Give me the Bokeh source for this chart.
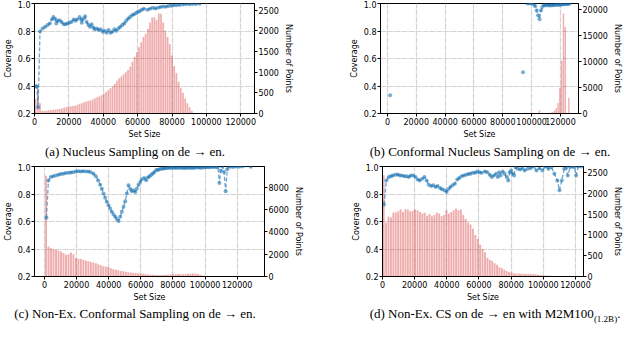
import numpy as np
from bokeh.plotting import figure
from bokeh.models import Range1d, LinearAxis, FixedTicker, PrintfTickFormatter, Div
from bokeh.layouts import column, row
from bokeh.embed import file_html
from bokeh.resources import INLINE

NAN = float("nan")
BLUE = "#1f77b4"
RED = "#d62728"

# ---------------- data ----------------
x_ticks = [0, 20000, 40000, 60000, 80000, 100000, 120000]
cov_ticks = [0.2, 0.4, 0.6, 0.8, 1.0]

# (a) Nucleus Sampling
a_bin_start, a_bin_width = 0, 1280
a_counts = [350, 600, 250, 60, 60, 70, 80, 85, 90, 95,
            100, 110, 120, 140, 160, 170, 175, 180, 190, 210,
            235, 250, 270, 290, 300, 320, 340, 370, 390, 420,
            440, 480, 520, 560, 610, 660, 720, 790, 850, 900,
            950, 1000, 1050, 1130, 1250, 1370, 1480, 1600, 1720, 1850,
            1930, 2050, 2200, 2320, 2330, 2260, 2420, 2410, 2200, 2000,
            1850, 1680, 1400, 1150, 980, 770, 620, 500, 360, 250,
            150, 60, 15]
a_size = [700, 1400, 2100, 3200, 4700, 6250, 7580, 8900, 10060, 11000,
          11970, 12700, 13470, 14600, 15730, 17100, 18000, 19150, 20290, 21430,
          22800, 23720, 24680, 26220, 27130, 27530, 28500, 29410, 30380, 31350,
          32260, 33230, 34200, 35110, 36250, 37390, 38530, 39670, 40810, 41950,
          43090, 44230, 45370, 46510, 47650, 48790, 49930, 51070, 52210, 53350,
          54490, 55630, 56770, 57910, 59050, 60190, 61330, 62470, 63610, 65700,
          67260, 68770, 70290, 71800, 73310, 74840, 76370, 77880, 79400, 80940,
          82440, 84350, 86240, 88120, 90060, 91940, 93830, 96110]
a_cov = [0.40, 0.395, 0.245, 0.797, 0.819, 0.831, 0.843, 0.855, 0.883, 0.902,
         0.89, 0.855, 0.874, 0.879, 0.866, 0.85, 0.85, 0.855, 0.86, 0.866,
         0.883, 0.874, 0.883, 0.902, 0.883, 0.86, 0.89, 0.907, 0.866, 0.843,
         0.831, 0.85, 0.826, 0.812, 0.819, 0.807, 0.812, 0.795, 0.802, 0.788,
         0.807, 0.788, 0.795, 0.812, 0.802, 0.819, 0.831, 0.843, 0.855, 0.874,
         0.89, 0.902, 0.914, 0.921, 0.931, 0.938, 0.945, 0.955, 0.962, 0.955,
         0.962, 0.969, 0.964, 0.969, 0.974, 0.979, 0.976, 0.981, 0.983, 0.988,
         0.988, 0.99, 0.993, 0.995, 0.995, 0.997, 0.997, 0.998]

# (b) Conformal Nucleus Sampling
b_bin_width = 1250
b_centers = [105440, 113000, 114340, 115840, 117090, 118330, 119580, 120830, 122080, 123330, 125830]
b_counts = [620, 150, 300, 550, 1070, 2000, 4900, 10050, 19200, 16600, 3000]
b_size = [1870, NAN, 94000, NAN, 97000, 98500, 100000, 101500, 102500, 103500,
          104500, 105500, 106500, 107300, 108500, 109500, 110500, 111500, 112500, 113500,
          114500, 115500, 116500, 117500, 118500, 119500, 120500, 121500, 122500, 123500,
          124500, 125500, 126300]
b_cov = [0.333, NAN, 0.5, NAN, 1.0, 1.0, 1.0, 0.995, 0.98, 0.95,
         0.915, 0.886, 0.95, 0.975, 0.99, 0.985, 0.995, 0.985, 0.99, 0.985,
         0.99, 0.988, 0.992, 0.99, 0.993, 0.99, 0.995, 0.993, 0.996, 0.995,
         0.997, 0.996, 1.0]

# (c) Non-Ex. Conformal Sampling
c_bin_start, c_bin_width = 225, 1550
c_counts = [9050, 2690, 2540, 2450, 2390, 2300, 2240, 2100, 1950, 2000,
            2150, 2000, 1660, 1600, 1570, 1480, 1420, 1360, 1300, 1250,
            1180, 1100, 1000, 930, 900, 820, 740, 660, 600, 550,
            500, 460, 420, 390, 360, 330, 310, 290, 260, 240,
            220, 180, 160, 150, 140, 140, 130, 140, 150, 160,
            170, 200, 210, 230, 220, 210, 230, 240, 250, 260,
            270, 230, 160, 80, 30]
c_size = [1250, 2490, 3940, 5400, 7060, 8720, 10170, 11630, 13300, 14950,
          16400, 17860, 19520, 21180, 22630, 24110, 25740, 27410, 28850, 30530,
          31960, 33430, 34700, 35700, 36760, 37800, 38800, 39870, 40930, 41930,
          42990, 44050, 45040, 46100, 47160, 48160, 49220, 50280, 51270, 52330,
          53390, 54390, 55450, 56510, 57500, 58560, 59620, 60620, 62110, 63330,
          64400, 65400, 66500, 67500, 68500, 69600, 70600, 71700, 72800, 73800,
          74800, 75800, 76900, 77900, 79000, 80000, 81000, 82000, 83000, 84000,
          85000, 86000, 87000, 88000, 89000, 90000, 91000, 92000, 93000, 94000,
          95000, 96000, 97000, 98000, 99000, 100000, 101000, 102000, 103000, 104000,
          105000, 106000, 107000, 108000, 108900, 109800, 110800, 111800, 112800, 113800,
          114800, 116000, 117500, 119000, 121000, 123000, 128500]
c_cov = [0.627, 0.899, 0.923, 0.930, 0.935, 0.94, 0.945, 0.947, 0.952, 0.954,
         0.957, 0.959, 0.964, 0.966, 0.964, 0.966, 0.964, 0.964, 0.959, 0.947,
         0.93, 0.899, 0.868, 0.839, 0.803, 0.772, 0.743, 0.719, 0.694, 0.671,
         0.651, 0.635, 0.618, 0.604, 0.635, 0.671, 0.707, 0.748, 0.803, 0.863,
         0.839, 0.82, 0.827, 0.815, 0.839, 0.868, 0.888, 0.907, 0.916, 0.90,
         0.92, 0.93, 0.94, 0.95, 0.96, 0.975, 0.975, 0.98, 0.985, 0.983,
         0.99, 0.988, 0.99, 0.992, 0.99, 0.995, 0.99, 0.993, 0.99, 0.995,
         0.99, 0.992, 0.988, 0.993, 0.99, 0.995, 0.99, 0.993, 0.99, 0.995,
         0.992, 0.996, 0.99, 0.995, 0.993, 0.996, 0.995, 0.997, 0.995, 0.998,
         0.996, 0.998, 0.997, 0.995, 0.88, 0.97, 1.0, 0.96, 0.82, 0.98,
         1.0, 0.998, 0.997, 1.0, 0.998, 1.0, 0.998]

# (d) Non-Ex. CS with M2M100 (1.2B)
d_bin_start, d_bin_width = 0, 1500
d_counts = [2430, 1290, 1435, 1420, 1540, 1540, 1570, 1618, 1550, 1618,
            1610, 1570, 1580, 1610, 1594, 1550, 1514, 1530, 1460, 1500,
            1450, 1475, 1540, 1514, 1450, 1475, 1594, 1514, 1550, 1594,
            1633, 1594, 1610, 1480, 1380, 1300, 1250, 1150, 1000, 900,
            760, 660, 580, 450, 400, 370, 320, 280, 225, 200,
            160, 135, 110, 95, 80, 75, 70, 68, 65, 62,
            65, 62, 60, 55, 45, 38, 30, 25, 22, 18,
            15, 14, 12, 10, 10, 8, 8, 6, 6, 5,
            5, 4, 3]
d_size = [940, 2440, 3900, 5200, 6500, 8000, 9450, 10780, 12060, 13550,
          15000, 16330, 17610, 19110, 20560, 21890, 23170, 24670, 26110, 27450,
          28720, 30220, 31660, 32990, 34270, 35770, 37050, 38550, 39830, 40940,
          42220, 43550, 45000, 46500, 47780, 49110, 50550, 52060, 53340, 54670,
          56110, 57610, 58890, 60220, 61670, 63700, 65200, 66700, 67950, 69300,
          70750, 71700, 72600, 73500, 74800, 75950, 77250, 78150, 79100, 80000,
          80950, 81850, 82800, 84100, 85550, 87050, 88350, 90200, 92050, 93900,
          95760, 97600, 99460, 101300, 103170, 105030, 106880, 108740, 110040, 111520,
          113000, 114300, 115220, 116700, 118000, 119300, 120400, 121700, 123550]
d_cov = [0.723, 0.899, 0.923, 0.930, 0.935, 0.940, 0.942, 0.935, 0.935, 0.930,
         0.930, 0.923, 0.935, 0.935, 0.923, 0.906, 0.899, 0.911, 0.923, 0.899,
         0.868, 0.858, 0.863, 0.851, 0.858, 0.844, 0.834, 0.827, 0.815, 0.834,
         0.851, 0.863, 0.875, 0.906, 0.916, 0.930, 0.935, 0.940, 0.945, 0.947,
         0.954, 0.954, 0.964, 0.959, 0.954, 0.964, 0.959, 0.940, 0.923, 0.935,
         0.947, 0.923, 0.959, 0.935, 0.964, 0.947, 0.923, 0.899, 0.959, 0.971,
         0.947, 0.935, 0.995, 0.983, 0.978, 0.988, 0.971, 0.983, 0.988, 1.0,
         0.971, 0.988, 0.971, 1.0, 0.983, 0.995, 0.947, 0.899, 0.827, 0.899,
         0.983, 0.995, 0.935, 0.995, 1.0, 0.995, 0.935, 1.0, 1.0]

captions = [
    "(a) Nucleus Sampling on de \u2192 en.",
    "(b) Conformal Nucleus Sampling on de \u2192 en.",
    "(c) Non-Ex. Conformal Sampling on de \u2192 en.",
    "(d) Non-Ex. CS on de \u2192 en with M2M100<sub style=\"font-size:9px\">(1.2B)</sub>.",
]


def centers_from(start, width, counts):
    return [start + width * (i + 0.5) for i in range(len(counts))]


def style_axis(ax):
    ax.major_label_text_font = "DejaVu Sans"
    ax.major_label_text_font_size = "8px"
    ax.major_label_text_color = "#000000"
    ax.axis_label_text_font = "DejaVu Sans"
    ax.axis_label_text_font_size = "8px"
    ax.axis_label_text_font_style = "normal"
    ax.axis_label_text_color = "#000000"
    ax.major_tick_out = 3
    ax.major_tick_in = 0
    ax.minor_tick_out = 0
    ax.minor_tick_in = 0
    ax.major_label_standoff = 1
    ax.axis_label_standoff = 2
    ax.axis_line_color = "#000000"
    ax.major_tick_line_color = "#000000"


def panel(xr, y2max, y2ticks, mleft, mright, height, top, bottom,
          centers, counts, bw, sizes, covs):
    p = figure(width=312, height=height, x_range=Range1d(*xr), y_range=Range1d(0.2, 1.0),
               output_backend="svg", toolbar_location=None,
               min_border_left=mleft, min_border_right=mright,
               min_border_top=top, min_border_bottom=bottom)
    p.extra_y_ranges = {"n": Range1d(0, y2max)}
    ax2 = LinearAxis(y_range_name="n", axis_label="Number of Points",
                     ticker=FixedTicker(ticks=y2ticks),
                     formatter=PrintfTickFormatter(format="%d"))
    p.add_layout(ax2, "right")

    p.vbar(x=centers, top=counts, bottom=0, width=bw * 0.78, y_range_name="n",
           fill_color=RED, fill_alpha=0.38, line_color=None)
    p.line(np.array(sizes, dtype=float), np.array(covs, dtype=float),
           line_color=BLUE, line_alpha=0.65, line_dash="4 2", line_width=1.3)
    p.scatter(np.array(sizes, dtype=float), np.array(covs, dtype=float), size=4,
              fill_color=BLUE, fill_alpha=0.6, line_color=None)

    p.xaxis.axis_label = "Set Size"
    p.xaxis.ticker = FixedTicker(ticks=x_ticks)
    p.xaxis.formatter = PrintfTickFormatter(format="%d")
    lax = p.left[0]
    lax.axis_label = "Coverage"
    lax.ticker = FixedTicker(ticks=cov_ticks)
    lax.formatter = PrintfTickFormatter(format="%.1f")
    for ax in [p.xaxis[0], lax, ax2]:
        style_axis(ax)

    p.xgrid.ticker = FixedTicker(ticks=x_ticks)
    p.ygrid.ticker = FixedTicker(ticks=cov_ticks)
    for g in [p.xgrid[0], p.ygrid[0]]:
        g.grid_line_color = "#d4d4d4"
        g.grid_line_dash = "6 1"
        g.grid_line_width = 1.2
    p.outline_line_color = "#000000"
    p.outline_line_alpha = 1.0
    p.outline_line_width = 1
    p.background_fill_color = "#ffffff"
    p.border_fill_color = "#ffffff"
    return p


def caption(html, center, height):
    return Div(text=('<div style="position:relative;left:%dpx;display:inline-block;'
                     'transform:translateX(-50%%);white-space:nowrap;'
                     'font-family:\'Liberation Serif\';font-size:13px;color:#000;'
                     'line-height:%dpx">%s</div>') % (center, height, html),
               width=312, height=height, margin=(0, 0, 0, 0))


pa = panel((0, 128000), 2660, [0, 500, 1000, 1500, 2000, 2500], 28, 58, 141, 3, 28,
           centers_from(a_bin_start, a_bin_width, a_counts), a_counts, a_bin_width, a_size, a_cov)
pb = panel((-4800, 132500), 21100, [0, 5000, 10000, 15000, 20000], 68, 35, 141, 3, 28,
           b_centers, b_counts, b_bin_width, b_size, b_cov)
pc = panel((-6200, 137000), 9870, [0, 2000, 4000, 6000, 8000], 28, 48, 141, 3, 28,
           centers_from(c_bin_start, c_bin_width, c_counts), c_counts, c_bin_width, c_size, c_cov)
pd_ = panel((0, 125000), 2643, [0, 500, 1000, 1500, 2000, 2500], 70, 32, 141, 3, 28,
            centers_from(d_bin_start, d_bin_width, d_counts), d_counts, d_bin_width, d_size, d_cov)

layout = column(
    row(pa, pb),
    row(caption(captions[0], 135, 22), caption(captions[1], 178, 22)),
    row(pc, pd_),
    row(caption(captions[2], 135, 20), caption(captions[3], 183, 20)),
)

open("out.html", "w").write(file_html(layout, INLINE))
